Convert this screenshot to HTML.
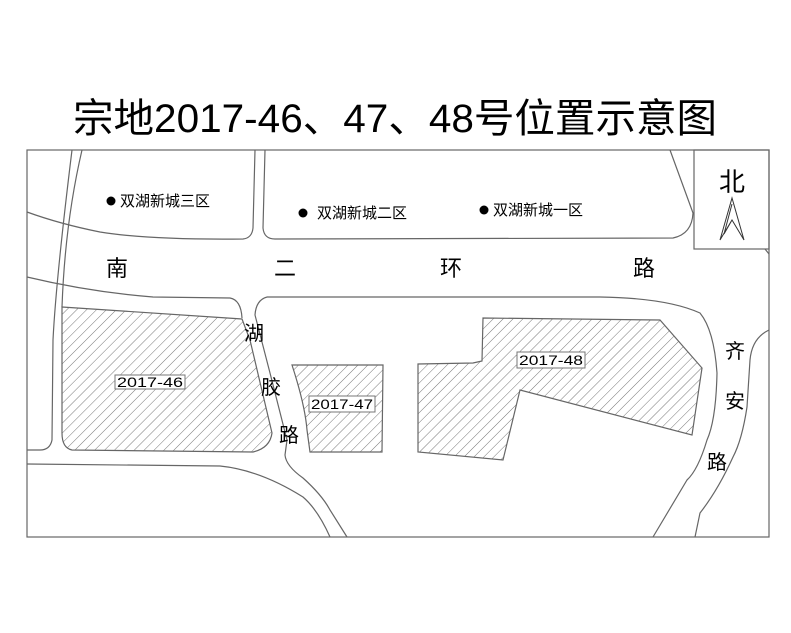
<!DOCTYPE html>
<html><head><meta charset="utf-8"><style>
html,body{margin:0;padding:0;background:#fff;}
svg{display:block;}
text{font-family:"Liberation Sans","Noto Sans CJK SC",sans-serif;fill:#000;}
</style></head><body>
<svg width="791" height="633" viewBox="0 0 791 633" xmlns="http://www.w3.org/2000/svg">
<defs>
<pattern id="h" patternUnits="userSpaceOnUse" width="7" height="7" patternTransform="rotate(45)">
<line x1="0" y1="0" x2="0" y2="7" stroke="#555" stroke-width="0.8"/>
</pattern>
</defs>
<rect width="791" height="633" fill="#fff"/>
<text x="73" y="132" font-size="40" textLength="644" lengthAdjust="spacingAndGlyphs">宗地2017-46、47、48号位置示意图</text>
<g fill="none" stroke="#666" stroke-width="1.2">
<rect x="27" y="150" width="742" height="387"/>
<!-- left road -->
<path d="M72,150 Q56,280 53,340 L52,440 Q50,450 40,450 L27,450"/>
<path d="M82,150 Q65,223 62,307"/>
<!-- block 3 -->
<path d="M27,212 Q60,224 100,232 Q150,240 243,239 Q252,238 253,228 L255,150"/>
<!-- block 2/1 -->
<path d="M265,150 L263,228 Q264,239 275,239 L673,238 Q692,234 693,213 L670,150"/>
<!-- north box -->
<rect x="694" y="150" width="75" height="99"/>
<path d="M765,249 L769,254"/>
<!-- south ring upper line left -->
<path d="M27,277 Q90,292 153,297 L230,298 Q241,300 242,318"/>
<!-- right part -->
<path d="M267,297 Q256,300 255,315 L270,373 L287,440 L285,455 Q286,466 303,478 Q322,495 330,510 L347,537"/>
<path d="M267,297 L600,297 Q667,298 700,313 Q714,330 717,373 Q716,420 707,440 Q698,470 687,480 L653,537"/>
<path d="M769,330 Q752,338 750,360 L747,407 Q742,440 733,457 Q718,490 700,513 L695,537"/>
<path d="M27,464 L220,466 Q260,470 303,497 Q318,510 330,537"/>
</g>
<!-- plots -->
<g stroke="#666" stroke-width="1.2">
<path d="M62,307 L242,319 L250,340 L272,433 Q270,448 253,452 L72,450 Q62,448 62,433 Z" fill="url(#h)"/>
<path d="M292,365 L383,365 L382,452 L310,452 L307,430 Q305,405 292,365 Z" fill="url(#h)"/>
<path d="M483,318 L660,320 L702,368 L692,435 L520,390 L503,460 L418,452 L418,364 L473,363 L482,361 Z" fill="url(#h)"/>
</g>
<g stroke="#777" stroke-width="1" fill="#fff">
<rect x="115" y="375" width="70" height="14"/>
<rect x="309" y="396" width="66" height="16"/>
<rect x="517" y="352" width="68" height="16"/>
</g>
<g font-size="14">
<text x="117" y="387" textLength="66" lengthAdjust="spacingAndGlyphs">2017-46</text>
<text x="311" y="409" textLength="62" lengthAdjust="spacingAndGlyphs">2017-47</text>
<text x="519" y="365" textLength="64" lengthAdjust="spacingAndGlyphs">2017-48</text>
</g>
<!-- district labels -->
<circle cx="111" cy="201" r="4.5" fill="#000"/>
<circle cx="303" cy="213" r="4.5" fill="#000"/>
<circle cx="484" cy="210" r="4.5" fill="#000"/>
<g font-size="15">
<text x="120" y="206">双湖新城三区</text>
<text x="317" y="218">双湖新城二区</text>
<text x="493" y="215">双湖新城一区</text>
</g>
<g font-size="22">
<text x="106" y="276">南</text>
<text x="274" y="276">二</text>
<text x="440" y="276">环</text>
<text x="633" y="276">路</text>
</g>
<g font-size="20">
<text x="244" y="340">湖</text>
<text x="261" y="394">胶</text>
<text x="279" y="442">路</text>
<text x="725" y="358">齐</text>
<text x="725" y="408">安</text>
<text x="707" y="469">路</text>
</g>
<text x="719" y="191" font-size="26">北</text>
<path d="M732,198 L720,240 L732,220 L744,240 Z M732,204 L724,234 L732,220" fill="none" stroke="#333" stroke-width="1"/>
</svg>
</body></html>
